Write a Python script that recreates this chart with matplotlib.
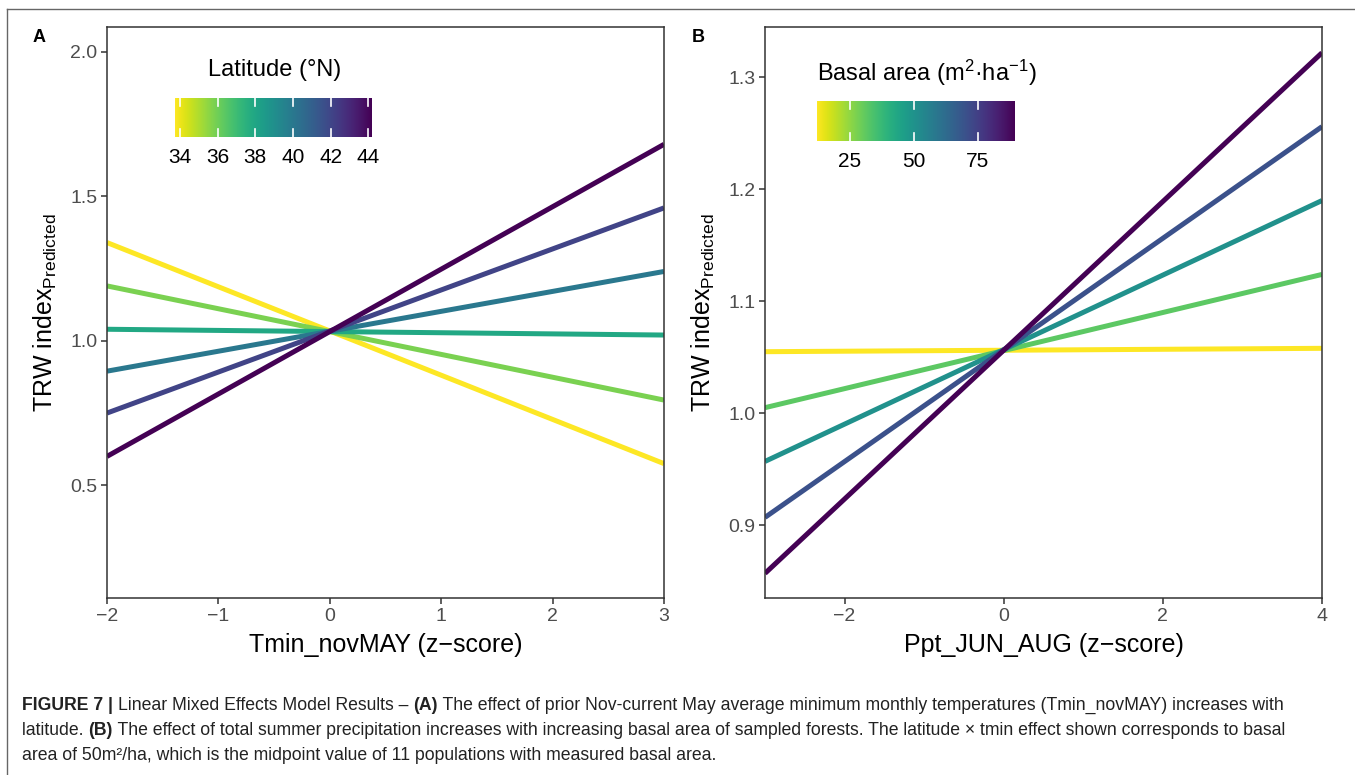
import numpy as np
import matplotlib
matplotlib.use("Agg")
import matplotlib.pyplot as plt
from matplotlib.lines import Line2D

plt.rcParams['font.family'] = ['Liberation Sans', 'DejaVu Sans']
plt.rcParams['mathtext.default'] = 'regular'

# ---- Data (panel A) ----
tmin_x = [-2, 3]
latitudes = [33.73, 35.82, 37.92, 40.01, 42.10, 44.20]
tmin_start = [1.34, 1.19, 1.04, 0.895, 0.75, 0.60]   # predicted at x=-2
tmin_end = [0.575, 0.795, 1.02, 1.24, 1.46, 1.68]    # predicted at x=3
lat_ticks = [34, 36, 38, 40, 42, 44]
a_yticks = [0.5, 1.0, 1.5, 2.0]
a_xticks = [-2, -1, 0, 1, 2, 3]

# ---- Data (panel B) ----
ppt_x = [-3, 4]
basal = [12.1, 31.45, 50.8, 70.15, 89.5]
ppt_start = [1.055, 1.005, 0.957, 0.907, 0.857]      # at x=-3
ppt_end = [1.058, 1.124, 1.190, 1.256, 1.322]        # at x=4
ba_ticks = [25, 50, 75]
b_yticks = [0.9, 1.0, 1.1, 1.2, 1.3]
b_xticks = [-2, 0, 2, 4]

W, H = 1355, 775
fig = plt.figure(figsize=(W / 100, H / 100), dpi=100)
cmap = plt.get_cmap('viridis_r')

def fx(px):
    return px / W

def fy(py):
    return 1 - py / H

def style_axes(ax):
    for s in ax.spines.values():
        s.set_color('#333333')
        s.set_linewidth(1.1)
    ax.tick_params(axis='both', direction='out', length=4, width=1.1,
                   color='#333333', labelcolor='#4d4d4d', labelsize=14, pad=3)

def make_ax(left, right, top, bottom):
    return fig.add_axes([fx(left), fy(bottom), fx(right - left), (bottom - top) / H])

def colorbar(rect, vmin, vmax, ticks):
    cax = make_ax(*rect)
    grad = np.linspace(0, 1, 256).reshape(1, -1)
    cax.imshow(grad, aspect='auto', cmap=cmap, vmin=0, vmax=1,
               extent=[vmin, vmax, 0, 1])
    for t in ticks:
        cax.plot([t, t], [0, 0.2], color='white', lw=1.2)
        cax.plot([t, t], [0.8, 1], color='white', lw=1.2)
    cax.set_xlim(vmin, vmax)
    cax.set_ylim(0, 1)
    cax.set_yticks([])
    cax.set_xticks(ticks)
    cax.set_xticklabels([str(t) for t in ticks])
    cax.tick_params(axis='x', length=0, labelsize=15, labelcolor='black', pad=8)
    for s in cax.spines.values():
        s.set_visible(False)
    return cax

# ---- Panel A ----
axA = make_ax(107, 664, 27, 598)
for lat, y0, y1 in zip(latitudes, tmin_start, tmin_end):
    c = cmap((lat - latitudes[0]) / (latitudes[-1] - latitudes[0]))
    axA.plot(tmin_x, [y0, y1], color=c, lw=3.6, solid_capstyle='butt')
axA.set_xlim(-2, 3)
axA.set_ylim(0.11, 2.086)
axA.set_xticks(a_xticks)
axA.set_xticklabels(['\u22122', '\u22121', '0', '1', '2', '3'])
axA.set_yticks(a_yticks)
axA.set_yticklabels(['0.5', '1.0', '1.5', '2.0'])
style_axes(axA)
axA.set_xlabel('Tmin_novMAY (z\u2212score)', fontsize=18, labelpad=6)
axA.set_ylabel('TRW index$_{Predicted}$', fontsize=18, labelpad=8)

colorbar((175, 372, 98, 137), latitudes[0], latitudes[-1], lat_ticks)
fig.text(fx(275), fy(70), 'Latitude (\u00b0N)', fontsize=17, ha='center', va='center')

# ---- Panel B ----
axB = make_ax(765, 1322, 27, 598)
for ba, y0, y1 in zip(basal, ppt_start, ppt_end):
    c = cmap((ba - basal[0]) / (basal[-1] - basal[0]))
    axB.plot(ppt_x, [y0, y1], color=c, lw=3.6, solid_capstyle='butt')
axB.set_xlim(-3, 4)
axB.set_ylim(0.835, 1.345)
axB.set_xticks(b_xticks)
axB.set_xticklabels(['\u22122', '0', '2', '4'])
axB.set_yticks(b_yticks)
axB.set_yticklabels(['0.9', '1.0', '1.1', '1.2', '1.3'])
style_axes(axB)
axB.set_xlabel('Ppt_JUN_AUG (z\u2212score)', fontsize=18, labelpad=6)
axB.set_ylabel('TRW index$_{Predicted}$', fontsize=18, labelpad=8)

colorbar((817, 1015, 101, 141), basal[0], basal[-1], ba_ticks)
fig.text(fx(817), fy(73), 'Basal area (m$^{2}$\u00b7ha$^{\u22121}$)', fontsize=17,
         ha='left', va='center')

# panel letters
fig.text(fx(33), fy(37), 'A', fontsize=13, fontweight='bold', ha='left', va='center')
fig.text(fx(692), fy(37), 'B', fontsize=13, fontweight='bold', ha='left', va='center')

# outer frame (left and top lines)
fig.add_artist(Line2D([fx(7), fx(7)], [0, fy(9)], color='#666666', lw=1.0))
fig.add_artist(Line2D([fx(7), 1], [fy(9), fy(9)], color='#666666', lw=1.0))

# ---- Caption ----
cap_size = 12.7
cap_lines = [
    [('FIGURE 7 | ', 'bold'), ('Linear Mixed Effects Model Results \u2013 ', 'normal'),
     ('(A)', 'bold'),
     (' The effect of prior Nov-current May average minimum monthly temperatures (Tmin_novMAY) increases with', 'normal')],
    [('latitude. ', 'normal'), ('(B)', 'bold'),
     (' The effect of total summer precipitation increases with increasing basal area of sampled forests. The latitude \u00d7 tmin effect shown corresponds to basal', 'normal')],
    [('area of 50m\u00b2/ha, which is the midpoint value of 11 populations with measured basal area.', 'normal')],
]
cap_y = [710, 735, 760]
renderer = fig.canvas.get_renderer()
for parts, yy in zip(cap_lines, cap_y):
    xpix = 22
    for txt, wt in parts:
        t = fig.text(fx(xpix), fy(yy), txt, fontsize=cap_size, fontweight=wt,
                     ha='left', va='baseline', color='#222222')
        bb = t.get_window_extent(renderer=renderer)
        xpix = bb.x1

fig.savefig('out.png', dpi=100)
